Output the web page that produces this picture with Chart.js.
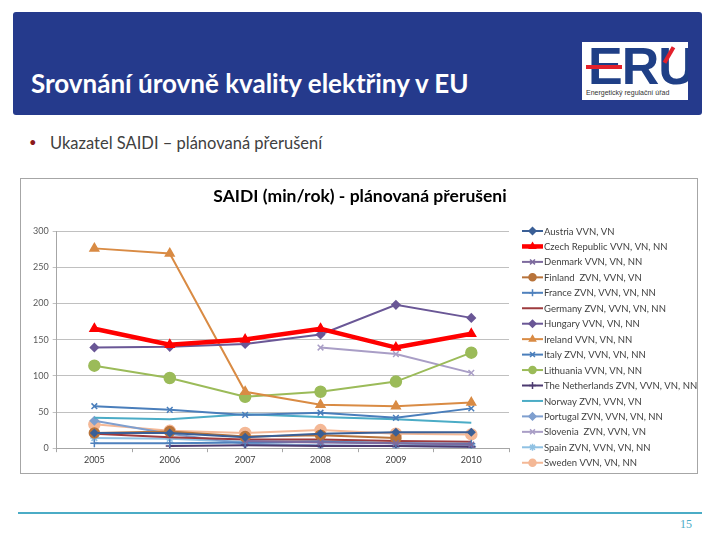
<!DOCTYPE html>
<html>
<head>
<meta charset="utf-8">
<script src="https://cdn.jsdelivr.net/npm/chart.js@4/dist/chart.umd.min.js"></script>
<style>
  html, body { margin: 0; padding: 0; background: #fff; }
  body { width: 720px; height: 540px; position: relative; overflow: hidden; font-family: Lato, "Liberation Sans", sans-serif; }
  #header { position: absolute; left: 13px; top: 12px; width: 689px; height: 103px; background: #253a8c; border-radius: 3px; }
  #title { position: absolute; left: 31px; top: 67px; color: #fff; font-size: 26px; font-weight: bold; white-space: nowrap; }
  #logo { position: absolute; left: 582px; top: 42px; width: 106px; height: 58px; background: #fff; overflow: hidden; }
  #logoText { position: absolute; left: 6px; top: -4px; font-family: "Liberation Sans Narrow", "Liberation Sans", sans-serif; font-size: 52px; font-weight: bold; color: #1f3f86; letter-spacing: -1px; line-height: 56px; }
  #logoBar { position: absolute; left: 4px; top: 23px; width: 36px; height: 4px; background: #e3202b; }
  #logoAcc { position: absolute; left: 85px; top: 4px; width: 4px; height: 18px; background: #e3202b; transform: rotate(30deg); }
  #logoSmall { position: absolute; left: 4px; top: 47px; font-size: 7px; color: #333; white-space: nowrap; font-family: "Liberation Sans", sans-serif; }
  #bullet { position: absolute; left: 29px; top: 134px; color: #8b1a1a; font-size: 13px; }
  #sub { position: absolute; left: 50px; top: 133px; color: #404040; font-size: 16.5px; white-space: nowrap; }
  #box { position: absolute; left: 20px; top: 178px; width: 676px; height: 294px; border: 1px solid #a6a6a6; }
  #wrap { position: absolute; left: 21px; top: 179px; width: 676px; height: 294px; }
  #footLine { position: absolute; left: 18px; top: 512px; width: 684px; height: 2px; background: #4bacc6; }
  #page { position: absolute; left: 680px; top: 517px; color: #4bacc6; font-size: 12px; font-family: "Liberation Serif", serif; }
</style>
</head>
<body>
<div id="header"></div>
<div id="title">Srovnání úrovně kvality elektřiny v EU</div>
<div id="logo"><div id="logoText">ERU</div><div id="logoBar"></div><div id="logoAcc"></div><div id="logoSmall">Energetický regulační úřad</div></div>
<div id="bullet">•</div>
<div id="sub">Ukazatel SAIDI – plánovaná přerušení</div>
<div id="box"></div>
<div id="wrap"><canvas id="c" width="676" height="294"></canvas></div>
<div id="footLine"></div>
<div id="page">15</div>
<script>
const years = ["2005", "2006", "2007", "2008", "2009", "2010"];
const austria     = [21, 21, 15, 20, 22, 22];
const czech       = [165, 143, 150, 165, 139, 158];
const denmark     = [null, null, 10, 8, 7, 5];
const finland     = [21, 23, 16, 18, 14, null];
const france      = [7, 7, 8, 9, 7, 6];
const germany     = [20, 15, 12, 12, 10, 9];
const hungary     = [139, 140, 144, 157, 198, 180];
const ireland     = [276, 269, 78, 60, 58, 63];
const italy       = [58, 53, 46, 49, 42, 55];
const lithuania   = [114, 97, 71, 78, 92, 132];
const netherlands = [null, 3, 4, 3, 3, 2];
const norway      = [42, 40, 47, 43, 40, 35];
const portugal    = [38, 20, 6, 4, 3, 2];
const slovenia    = [null, null, null, 139, 130, 104];
const spain       = [14, 13, 9, 10, 7, 3];
const sweden      = [33, 24, 21, 25, 20, 19];
const yTicks = [0, 50, 100, 150, 200, 250, 300];
const chartTitle = "SAIDI (min/rok) - plánovaná přerušeni";

const seriesNames = [
  "Austria VVN, VN", "Czech Republic VVN, VN, NN", "Denmark VVN, VN, NN", "Finland  ZVN, VVN, VN",
  "France ZVN, VVN, VN, NN", "Germany ZVN, VVN, VN, NN", "Hungary VVN, VN, NN", "Ireland VVN, VN, NN",
  "Italy ZVN, VVN, VN, NN", "Lithuania VVN, VN, NN", "The Netherlands ZVN, VVN, VN, NN", "Norway ZVN, VVN, VN",
  "Portugal ZVN, VVN, VN, NN", "Slovenia  ZVN, VVN, VN", "Spain ZVN, VVN, VN, NN", "Sweden VVN, VN, NN"
];
const seriesData = [austria, czech, denmark, finland, france, germany, hungary, ireland,
  italy, lithuania, netherlands, norway, portugal, slovenia, spain, sweden];
const colors = ["#3a5f96", "#ff0000", "#7d6a9e", "#b8733a", "#4f81bd", "#9e3b3e", "#6a5796", "#d98b44",
  "#4a7ebb", "#9bbb59", "#4c3a70", "#4bacc6", "#7f9fcf", "#a99ec6", "#8fc1e3", "#f4b896"];
const styles = ["rectRot", "triangle", "crossRot", "circle", "cross", false, "rectRot", "triangle",
  "crossRot", "circle", "cross", false, "rectRot", "crossRot", "star", "circle"];
const radii = [3.5, 5, 4, 5, 4, 0, 4, 5, 4, 5.5, 4, 0, 4, 4, 4, 5.5];
const widths = [2, 4.5, 2, 2, 2, 2, 2, 2, 2, 2, 2, 2, 2, 2, 2, 2];

const datasets = seriesNames.map((n, i) => ({
  label: n,
  data: seriesData[i],
  borderColor: colors[i],
  backgroundColor: colors[i],
  borderWidth: widths[i],
  pointStyle: styles[i],
  pointRadius: radii[i],
  pointBorderWidth: 1.5,
  pointBorderColor: colors[i],
  pointBackgroundColor: colors[i],
  tension: 0,
  spanGaps: false
}));

const legendPlugin = {
  id: "sideLegend",
  afterDraw(chart) {
    const ctx = chart.ctx;
    ctx.save();
    ctx.fillStyle = "#000";
    ctx.font = "bold 17.5px Lato, 'Liberation Sans', sans-serif";
    ctx.textAlign = "center";
    ctx.textBaseline = "middle";
    ctx.fillText(chartTitle, 339, 17);
    const x0 = 501, x1 = 522, step = 15.45, top = 52;
    chart.data.datasets.forEach((ds, i) => {
      const y = top + i * step;
      ctx.strokeStyle = ds.borderColor;
      ctx.lineWidth = ds.borderWidth;
      ctx.beginPath(); ctx.moveTo(x0, y); ctx.lineTo(x1, y); ctx.stroke();
      if (ds.pointStyle) {
        ctx.fillStyle = ds.borderColor;
        ctx.strokeStyle = ds.borderColor;
        ctx.lineWidth = 1.5;
        Chart.helpers.drawPoint(ctx, { pointStyle: ds.pointStyle, radius: Math.min(ds.pointRadius, 3.5), rotation: 0, borderWidth: 1.5 }, (x0 + x1) / 2, y);
      }
      ctx.fillStyle = "#404040";
      ctx.font = "9.5px Lato, 'Liberation Sans', sans-serif";
      ctx.textBaseline = "middle";
      ctx.textAlign = "left";
      ctx.fillText(ds.label, x1 + 1, y + 0.5);
    });
    ctx.restore();
  }
};

new Chart(document.getElementById("c"), {
  type: "line",
  data: { labels: years, datasets: datasets },
  options: {
    responsive: false,
    animation: false,
    layout: { padding: { left: 8, right: 188, top: 52, bottom: 6 } },
    plugins: {
      legend: { display: false },
      tooltip: { enabled: false },
      title: { display: false }
    },
    scales: {
      x: {
        offset: true,
        grid: { display: true, offset: true, drawOnChartArea: false, drawTicks: true, tickLength: 4, color: "#a6a6a6" },
        border: { color: "#a6a6a6" },
        ticks: { color: "#404040", font: { family: "Lato, 'Liberation Sans', sans-serif", size: 9 }, padding: 2 }
      },
      y: {
        min: 0, max: 300,
        afterBuildTicks(scale) { scale.ticks = yTicks.map(v => ({ value: v })); },
        grid: { color: "#c0c0c0", drawTicks: true, tickLength: 4 },
        border: { color: "#a6a6a6" },
        ticks: { color: "#595959", font: { family: "Lato, 'Liberation Sans', sans-serif", size: 9 }, padding: 4 }
      }
    }
  },
  plugins: [legendPlugin]
});
</script>
</body>
</html>
